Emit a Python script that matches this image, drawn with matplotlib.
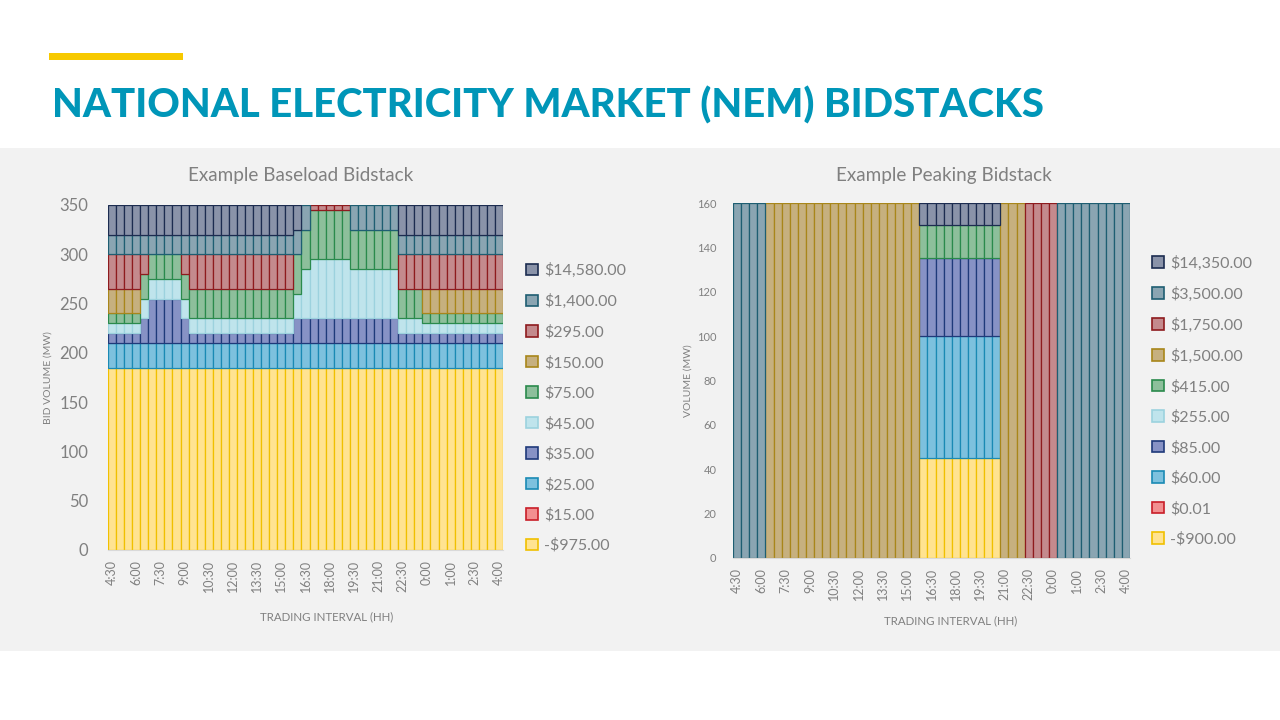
import matplotlib
matplotlib.use("Agg")
import matplotlib.pyplot as plt
from matplotlib.patches import Rectangle
import numpy as np

# ---------------- data ----------------
INTERVALS = ["4:30", "5:00", "5:30", "6:00", "6:30", "7:00", "7:30", "8:00", "8:30", "9:00",
             "9:30", "10:00", "10:30", "11:00", "11:30", "12:00", "12:30", "13:00", "13:30", "14:00",
             "14:30", "15:00", "15:30", "16:00", "16:30", "17:00", "17:30", "18:00", "18:30", "19:00",
             "19:30", "20:00", "20:30", "21:00", "21:30", "22:00", "22:30", "23:00", "23:30", "0:00",
             "0:30", "0:30", "1:00", "1:30", "2:00", "2:30", "3:00", "3:30", "4:00"]

# Baseload bidstack (MW per price band), bottom to top
BASE_LABELS = ["-$975.00", "$15.00", "$25.00", "$35.00", "$45.00", "$75.00",
               "$150.00", "$295.00", "$1,400.00", "$14,580.00"]
base_m975 = [185] * 49
base_p15 = [0] * 49
base_p25 = [25] * 49
base_p35 = [10, 10, 10, 10, 25, 45, 45, 45, 45, 25,
            10, 10, 10, 10, 10, 10, 10, 10, 10, 10, 10, 10, 10,
            25, 25, 25, 25, 25, 25, 25, 25, 25, 25, 25, 25, 25,
            10, 10, 10, 10, 10, 10, 10, 10, 10, 10, 10, 10, 10]
base_p45 = [10, 10, 10, 10, 20, 20, 20, 20, 20, 20,
            15, 15, 15, 15, 15, 15, 15, 15, 15, 15, 15, 15, 15,
            25, 50, 60, 60, 60, 60, 60, 50, 50, 50, 50, 50, 50,
            15, 15, 15, 10, 10, 10, 10, 10, 10, 10, 10, 10, 10]
base_p75 = [10, 10, 10, 10, 25, 25, 25, 25, 25, 25,
            30, 30, 30, 30, 30, 30, 30, 30, 30, 30, 30, 30, 30,
            40, 40, 50, 50, 50, 50, 50, 40, 40, 40, 40, 40, 40,
            30, 30, 30, 10, 10, 10, 10, 10, 10, 10, 10, 10, 10]
base_p150 = [25, 25, 25, 25, 0, 0, 0, 0, 0, 0,
             0, 0, 0, 0, 0, 0, 0, 0, 0, 0, 0, 0, 0,
             0, 0, 0, 0, 0, 0, 0, 0, 0, 0, 0, 0, 0,
             0, 0, 0, 25, 25, 25, 25, 25, 25, 25, 25, 25, 25]
base_p295 = [35, 35, 35, 35, 20, 0, 0, 0, 0, 20,
             35, 35, 35, 35, 35, 35, 35, 35, 35, 35, 35, 35, 35,
             0, 0, 5, 5, 5, 5, 5, 0, 0, 0, 0, 0, 0,
             35, 35, 35, 35, 35, 35, 35, 35, 35, 35, 35, 35, 35]
base_p1400 = [20, 20, 20, 20, 20, 20, 20, 20, 20, 20,
              20, 20, 20, 20, 20, 20, 20, 20, 20, 20, 20, 20, 20,
              25, 25, 0, 0, 0, 0, 0, 25, 25, 25, 25, 25, 25,
              20, 20, 20, 20, 20, 20, 20, 20, 20, 20, 20, 20, 20]
base_p14580 = [30, 30, 30, 30, 30, 30, 30, 30, 30, 30,
               30, 30, 30, 30, 30, 30, 30, 30, 30, 30, 30, 30, 30,
               25, 0, 0, 0, 0, 0, 0, 0, 0, 0, 0, 0, 0,
               30, 30, 30, 30, 30, 30, 30, 30, 30, 30, 30, 30, 30]
BASE_SERIES = [base_m975, base_p15, base_p25, base_p35, base_p45, base_p75,
               base_p150, base_p295, base_p1400, base_p14580]

# Peaking bidstack (MW per price band), bottom to top
PEAK_LABELS = ["-$900.00", "$0.01", "$60.00", "$85.00", "$255.00", "$415.00",
               "$1,500.00", "$1,750.00", "$3,500.00", "$14,350.00"]
peak_m900 = [0, 0, 0, 0, 0, 0, 0, 0, 0, 0, 0, 0, 0, 0, 0, 0, 0, 0, 0, 0, 0, 0, 0,
             45, 45, 45, 45, 45, 45, 45, 45, 45, 45,
             0, 0, 0, 0, 0, 0, 0, 0, 0, 0, 0, 0, 0, 0, 0, 0]
peak_p001 = [0] * 49
peak_p60 = [0, 0, 0, 0, 0, 0, 0, 0, 0, 0, 0, 0, 0, 0, 0, 0, 0, 0, 0, 0, 0, 0, 0,
            55, 55, 55, 55, 55, 55, 55, 55, 55, 55,
            0, 0, 0, 0, 0, 0, 0, 0, 0, 0, 0, 0, 0, 0, 0, 0]
peak_p85 = [0, 0, 0, 0, 0, 0, 0, 0, 0, 0, 0, 0, 0, 0, 0, 0, 0, 0, 0, 0, 0, 0, 0,
            35, 35, 35, 35, 35, 35, 35, 35, 35, 35,
            0, 0, 0, 0, 0, 0, 0, 0, 0, 0, 0, 0, 0, 0, 0, 0]
peak_p255 = [0] * 49
peak_p415 = [0, 0, 0, 0, 0, 0, 0, 0, 0, 0, 0, 0, 0, 0, 0, 0, 0, 0, 0, 0, 0, 0, 0,
             15, 15, 15, 15, 15, 15, 15, 15, 15, 15,
             0, 0, 0, 0, 0, 0, 0, 0, 0, 0, 0, 0, 0, 0, 0, 0]
peak_p1500 = [0, 0, 0, 0, 160, 160, 160, 160, 160, 160, 160, 160, 160, 160, 160, 160, 160, 160, 160, 160, 160, 160, 160,
              0, 0, 0, 0, 0, 0, 0, 0, 0, 0,
              160, 160, 160, 0, 0, 0, 0, 0, 0, 0, 0, 0, 0, 0, 0, 0]
peak_p1750 = [0, 0, 0, 0, 0, 0, 0, 0, 0, 0, 0, 0, 0, 0, 0, 0, 0, 0, 0, 0, 0, 0, 0,
              0, 0, 0, 0, 0, 0, 0, 0, 0, 0,
              0, 0, 0, 160, 160, 160, 160, 0, 0, 0, 0, 0, 0, 0, 0, 0]
peak_p3500 = [160, 160, 160, 160, 0, 0, 0, 0, 0, 0, 0, 0, 0, 0, 0, 0, 0, 0, 0, 0, 0, 0, 0,
              0, 0, 0, 0, 0, 0, 0, 0, 0, 0,
              0, 0, 0, 0, 0, 0, 0, 160, 160, 160, 160, 160, 160, 160, 160, 160]
peak_p14350 = [0, 0, 0, 0, 0, 0, 0, 0, 0, 0, 0, 0, 0, 0, 0, 0, 0, 0, 0, 0, 0, 0, 0,
               10, 10, 10, 10, 10, 10, 10, 10, 10, 10,
               0, 0, 0, 0, 0, 0, 0, 0, 0, 0, 0, 0, 0, 0, 0, 0]
PEAK_SERIES = [peak_m900, peak_p001, peak_p60, peak_p85, peak_p255, peak_p415,
               peak_p1500, peak_p1750, peak_p3500, peak_p14350]

# ---------------- styles ----------------
FACES = ["#FFE391", "#F28F90", "#7DC1DE", "#8792C5", "#BFE4EC", "#8DBF9B",
         "#C6B07F", "#C48A8D", "#8AA5B2", "#8A93A9"]
EDGES = ["#F0C000", "#C81E28", "#1A8AB4", "#1F3A7A", "#9CD2DE", "#2A8A4C",
         "#A8861A", "#8E1B1E", "#1E5E72", "#1C2C50"]
GREY = "#808080"
FONT = "Lato"

fig = plt.figure(figsize=(12.8, 7.2), dpi=100)
fig.patch.set_facecolor("white")
fig.patches.append(Rectangle((0, 1 - 651 / 720), 1, 503 / 720, transform=fig.transFigure,
                             facecolor="#F2F2F2", edgecolor="none", zorder=-10))
fig.patches.append(Rectangle((49 / 1280, 1 - 60 / 720), 134 / 1280, 7 / 720, transform=fig.transFigure,
                             facecolor="#F7C900", edgecolor="none", zorder=-5))

title = fig.text(52 / 1280, 1 - 118 / 720, "NATIONAL ELECTRICITY MARKET (NEM) BIDSTACKS",
                 fontsize=30, fontweight="black", family=FONT, color="#0096B8", va="baseline", ha="left")
fig.canvas.draw()
w = title.get_window_extent().width
title.set_fontsize(30 * 993 / w)


def draw_stack(rect, series, labels, ymax, ystep, ytick_size, ytick_pad, ylabel, ylabel_x,
               ttl, ttl_x, xlabel_x, xlabel_y, leg_x, leg_y):
    ax = fig.add_axes(rect)
    ax.set_facecolor("none")
    x = np.arange(len(INTERVALS))
    bottom = np.zeros(len(INTERVALS))
    handles = []
    for vals, face, edge, lab in zip(series, FACES, EDGES, labels):
        v = np.array(vals, dtype=float)
        m = v > 0
        ax.bar(x[m], v[m], bottom=bottom[m], width=1.0, color=face, edgecolor=edge,
               linewidth=0.9, label=lab)
        handles.append(Rectangle((0, 0), 1, 1, facecolor=face, edgecolor=edge, linewidth=1.2))
        bottom += v
    ax.set_xlim(-0.5, len(INTERVALS) - 0.5)
    ax.set_ylim(0, ymax)
    ax.set_yticks(np.arange(0, ymax + 1, ystep))
    ax.set_xticks(x[::3])
    ax.set_xticklabels(INTERVALS[::3], rotation=90, fontsize=9, color=GREY, family=FONT)
    for t in ax.get_yticklabels():
        t.set_fontsize(ytick_size)
        t.set_color(GREY)
        t.set_family(FONT)
    ax.tick_params(axis="both", length=0)
    ax.tick_params(axis="y", pad=ytick_pad)
    ax.tick_params(axis="x", pad=7)
    for s in ["left", "right", "top"]:
        ax.spines[s].set_visible(False)
    ax.spines["bottom"].set_color("#D9D9D9")
    fig.text(ttl_x, 1 - 175 / 720, ttl, fontsize=13.6, color=GREY, family=FONT,
             ha="center", va="center")
    fig.text(ylabel_x, rect[1] + rect[3] / 2, ylabel, fontsize=7.5, color=GREY, family=FONT,
             rotation=90, ha="center", va="center")
    fig.text(xlabel_x, xlabel_y, "TRADING INTERVAL (HH)", fontsize=8.3, color=GREY, family=FONT,
             ha="center", va="center")
    leg = ax.legend(handles[::-1], labels[::-1], loc="center left", bbox_to_anchor=(leg_x, leg_y),
                    bbox_transform=fig.transFigure, frameon=False, fontsize=11.5,
                    handlelength=0.72, handleheight=0.72, handletextpad=0.4, labelspacing=1.0,
                    borderpad=0, borderaxespad=0)
    for t in leg.get_texts():
        t.set_color(GREY)
        t.set_family(FONT)
    return ax


draw_stack([108 / 1280, 1 - 550 / 720, 395 / 1280, 345 / 720], BASE_SERIES, BASE_LABELS,
           350, 50, 12, 14, "BID VOLUME (MW)", 48 / 1280,
           "Example Baseload Bidstack", 301 / 1280, 327 / 1280, 1 - 617 / 720,
           526 / 1280, 1 - 408 / 720)
draw_stack([733 / 1280, 1 - 558 / 720, 397 / 1280, 355 / 720], PEAK_SERIES, PEAK_LABELS,
           160, 20, 8, 12, "VOLUME (MW)", 688 / 1280,
           "Example Peaking Bidstack", 944 / 1280, 951 / 1280, 1 - 621 / 720,
           1152 / 1280, 1 - 401 / 720)

fig.savefig("out.png", dpi=100, facecolor=fig.get_facecolor())
